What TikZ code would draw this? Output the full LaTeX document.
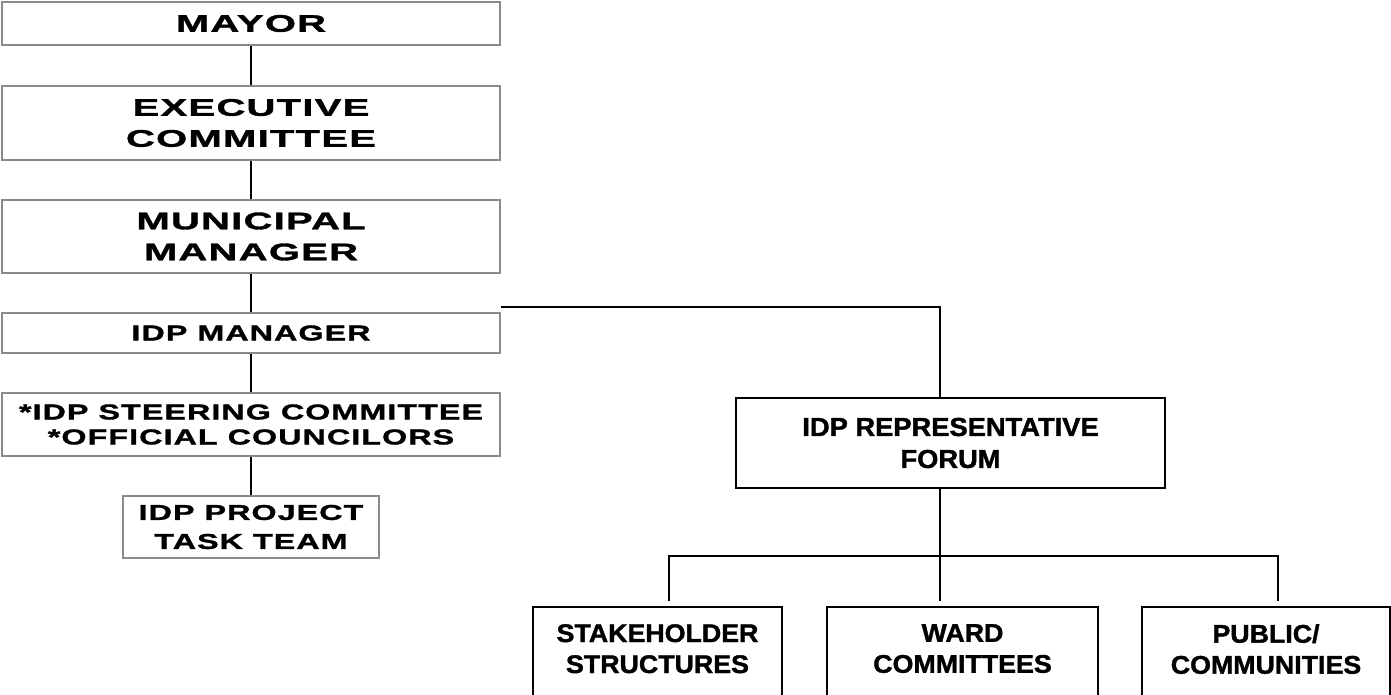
\documentclass[tikz,border=0pt]{standalone}
\usepackage{fontspec}
\setmainfont{Liberation Sans}
\newfontfamily\widebig{Liberation Sans Bold}[FakeStretch=1.67,LetterSpace=5,RawFeature={embolden=1.5}]
\newfontfamily\widesmall{Liberation Sans Bold}[FakeStretch=1.5,LetterSpace=5,RawFeature={embolden=1.5}]
\newfontfamily\rfont{Liberation Sans Bold}[FakeStretch=1.05,RawFeature={embolden=1.5}]
\usetikzlibrary{positioning,calc}
\definecolor{boxgray}{HTML}{8A8A8A}

\begin{document}
\begin{tikzpicture}[x=1pt,y=-1pt,
    lbox/.style={draw=boxgray,line width=2pt,minimum width=498pt,inner sep=0pt,align=center},
    bigtxt/.style={font=\widebig\fontsize{24}{31}\selectfont},
    smalltxt/.style={font=\widesmall\fontsize{21.5}{25}\selectfont},
    rbox/.style={draw,line width=1.5pt,inner sep=0pt,align=center},
    rtxt/.style={font=\rfont\fontsize{25.5}{31}\selectfont,align=center,inner sep=0pt},
    lline/.style={line width=2pt},
    rline/.style={line width=1.5pt}]
  \useasboundingbox (0,0) rectangle (1391,695);

  % left column
  \node[lbox,bigtxt,minimum height=43pt] (mayor) at (251,23.5) {MAYOR};
  \node[lbox,bigtxt,minimum height=74pt] (exec) at (251,123) {EXECUTIVE\\COMMITTEE};
  \node[lbox,bigtxt,minimum height=73pt] (muni) at (251,236.5) {MUNICIPAL\\MANAGER};
  \node[lbox,smalltxt,minimum height=40pt] (idpm) at (251,333) {IDP MANAGER};
  \node[lbox,smalltxt,minimum height=63pt] (steer) at (251,424.5) {*IDP STEERING COMMITTEE\\*OFFICIAL COUNCILORS};
  \node[lbox,minimum width=256pt,minimum height=62pt,font=\widesmall\fontsize{21.5}{29}\selectfont] (task) at (251,527) {IDP PROJECT\\TASK TEAM};

  \draw[lline] (mayor) -- (exec);
  \draw[lline] (exec) -- (muni);
  \draw[lline] (muni) -- (idpm);
  \draw[lline] (idpm) -- (steer);
  \draw[lline] (steer) -- (task);

  % right side
  \node[rbox,minimum width=429pt,minimum height=90pt,font=\rfont\fontsize{26}{32}\selectfont] (forum) at (950.5,443) {IDP REPRESENTATIVE\\FORUM};

  \node[rbox,minimum width=249pt,minimum height=110pt,anchor=north] (stake) at (657.5,606) {};
  \node[rbox,minimum width=271pt,minimum height=110pt,anchor=north] (ward) at (962.5,606) {};
  \node[rbox,minimum width=248pt,minimum height=110pt,anchor=north] (pub) at (1266,606) {};
  \node[rtxt,anchor=north] (staketxt) at ([yshift=-18pt]stake.north) {STAKEHOLDER\\STRUCTURES};
  \node[rtxt,anchor=north] (wardtxt) at ([yshift=-18pt]ward.north) {WARD\\COMMITTEES};
  \node[rtxt,anchor=north] (pubtxt) at ([yshift=-18pt]pub.north) {PUBLIC/\\COMMUNITIES};

  \coordinate (fork) at (940,308);
  \coordinate (tee) at (940,556);
  \coordinate (s1) at (669,601);
  \coordinate (s3) at (1278,601);

  \draw[rline] ([yshift=5pt]idpm.north east) -| (forum.north -| fork);
  \draw[rline] (forum.south -| tee) -- (tee);
  \draw[rline] (s1) |- (tee) -| (s3);
  \draw[rline] (tee) -- (tee |- s1);
\end{tikzpicture}
\end{document}
